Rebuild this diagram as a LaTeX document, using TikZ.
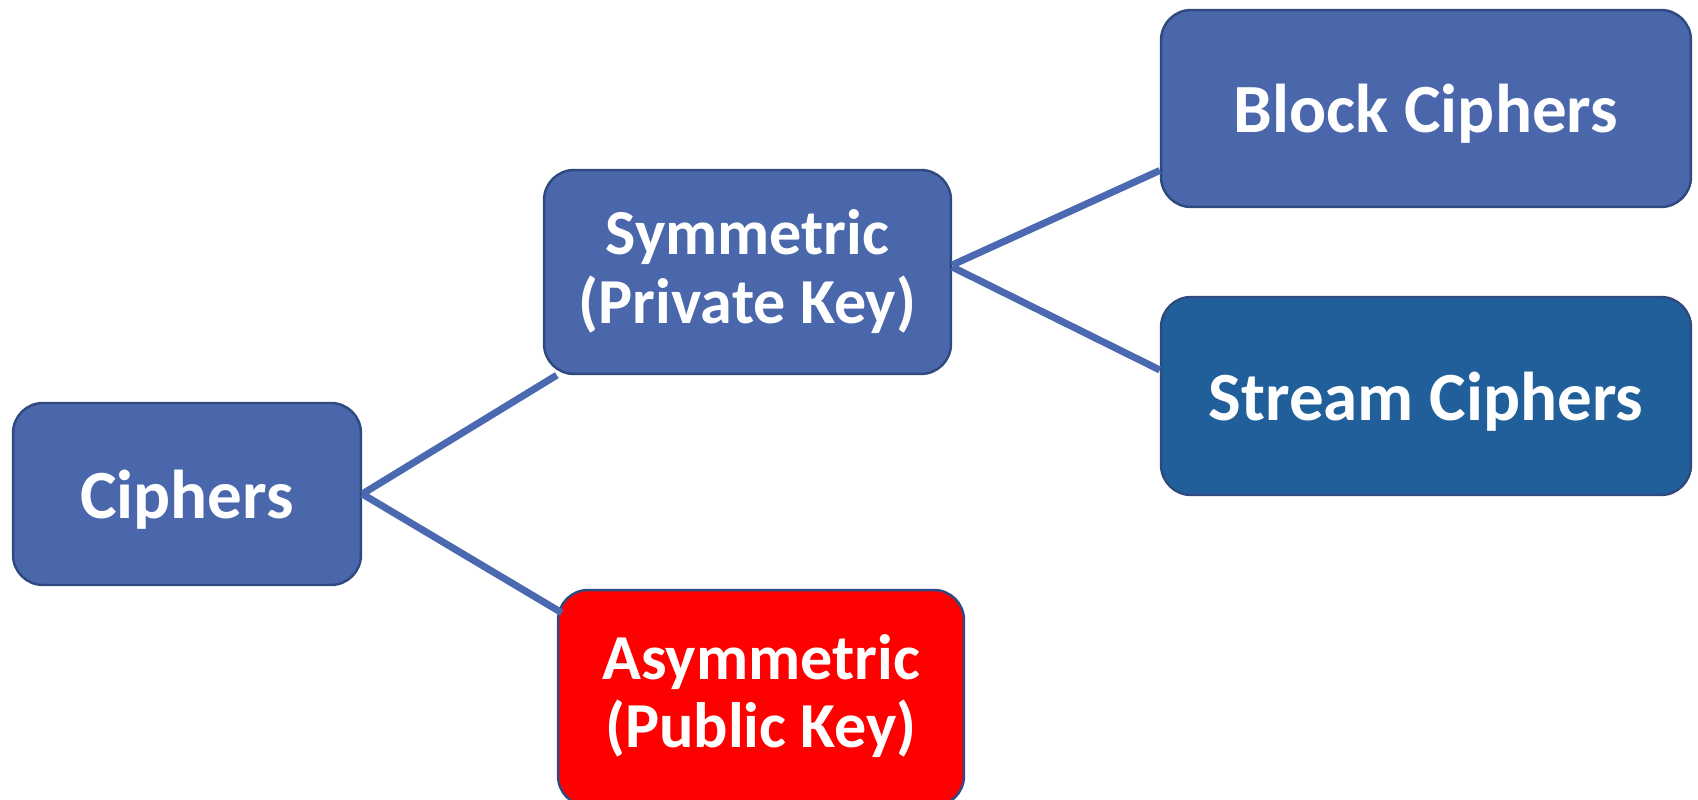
\documentclass[tikz,border=0pt]{standalone}
\usepackage{fontspec}
\setmainfont{Carlito}
\definecolor{boxblue}{RGB}{74,103,172}
\definecolor{streamblue}{RGB}{33,95,154}
\definecolor{boxedge}{RGB}{47,74,128}
\definecolor{linkblue}{RGB}{74,105,176}
\definecolor{asymred}{RGB}{255,0,0}
\newcommand{\lowertext}[2]{\raisebox{-#1}[\height][\depth]{#2}}
\tikzset{
  cbox/.style={draw=boxedge, line width=1.4pt, rounded corners=0.6cm, fill=boxblue,
    text=white, align=center, inner sep=0pt},
  onefont/.style={font=\bfseries\fontsize{39.3}{42}\selectfont},
  twofont/.style={font=\bfseries\fontsize{36.5}{39}\selectfont},
  link/.style={draw=linkblue, line width=4pt}
}
\begin{document}
\begin{tikzpicture}[x=0.02cm,y=-0.02cm]
\useasboundingbox (0,0) rectangle (1698,800);
\node[cbox, onefont, minimum width=6.96cm, minimum height=3.64cm] (ciph) at (187,494) {\lowertext{3pt}{Ciphers}};
\node[cbox, twofont, minimum width=8.14cm, minimum height=4.08cm] (sym) at (747.5,272)
  {\lowertext{1.8pt}{\begin{tabular}{@{}c@{}}Symmetric\\(Private Key)\end{tabular}}};
\node[cbox, onefont, minimum width=10.6cm, minimum height=3.94cm] (block) at (1426,108.5) {\lowertext{3pt}{Block Ciphers}};
\node[cbox, onefont, fill=streamblue, minimum width=10.6cm, minimum height=3.96cm] (stream) at (1426,396) {\lowertext{3pt}{Stream Ciphers}};
\node[cbox, twofont, fill=asymred, minimum width=8.12cm, minimum height=4.32cm] (asym) at (761,698)
  {\lowertext{1pt}{\begin{tabular}{@{}c@{}}Asymmetric\\(Public Key)\end{tabular}}};
\draw[link] (ciph.east) -- ([xshift=0.28cm]sym.south west);
\draw[link] (ciph.east) -- ([xshift=0.1cm,yshift=-0.48cm]asym.north west);
\draw[link] ([yshift=0.14cm]sym.east) -- ([yshift=-1.24cm]block.west);
\draw[link] ([yshift=0.1cm]sym.east) -- ([yshift=0.52cm]stream.west);
\end{tikzpicture}
\end{document}
